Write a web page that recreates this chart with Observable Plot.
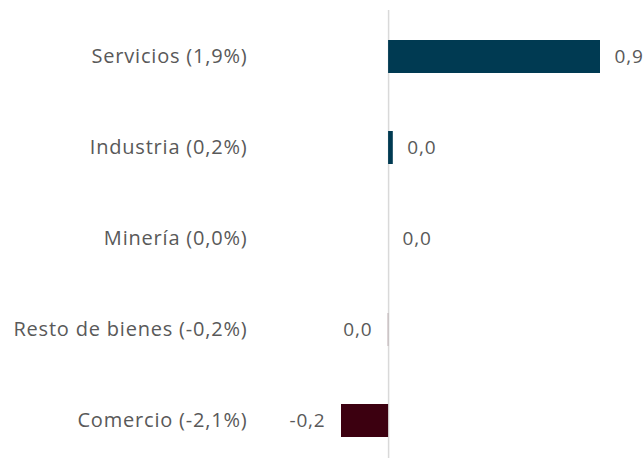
<!DOCTYPE html>
<html>
<head>
<meta charset="utf-8">
<script src="https://cdn.jsdelivr.net/npm/d3@7"></script>
<script src="https://cdn.jsdelivr.net/npm/@observablehq/plot@0.6"></script>
<style>
  html, body { margin: 0; padding: 0; background: #fff; }
  #chart { width: 644px; height: 460px; }
  #chart svg text { letter-spacing: 0.8px; }
</style>
</head>
<body>
<div id="chart"></div>
<script>
const categories = ["Servicios (1,9%)", "Industria (0,2%)", "Minería (0,0%)", "Resto de bienes (-0,2%)", "Comercio (-2,1%)"];
const values = [0.9, 0.02, 0.0, -0.001, -0.2];
const colorPos = "#003a52";
const colorNeg = "#3c0010";
const textColor = "#595959";

const data = categories.map((c, i) => ({ category: c, value: values[i] }));
const fmt = v => {
  const r = Math.round(v * 10) / 10;
  return (r === 0 ? "0,0" : r.toFixed(1).replace(".", ","));
};
const pos = data.filter(d => d.value >= 0);
const neg = data.filter(d => d.value < 0);

const chart = Plot.plot({
  width: 644,
  height: 460,
  marginLeft: 341,
  marginRight: 44,
  marginTop: 10,
  marginBottom: 2,
  style: { fontFamily: "'Open Sans', sans-serif", fontSize: "20px", color: textColor, background: "#fff" },
  x: { domain: [-0.2, 0.9], axis: null },
  y: { domain: categories, paddingInner: 0.64, paddingOuter: 0.275, align: 0.59, label: null },
  marks: [
    Plot.ruleX([0], { stroke: "#d9d9d9", strokeWidth: 1.5 }),
    Plot.barX(data, {
      x: "value",
      y: "category",
      fill: d => d.value >= 0 ? colorPos : colorNeg
    }),
    Plot.text(pos, {
      x: "value",
      y: "category",
      text: d => fmt(d.value),
      textAnchor: "start",
      dx: 14,
      fill: textColor,
      fontSize: 19
    }),
    Plot.text(neg, {
      x: "value",
      y: "category",
      text: d => fmt(d.value),
      textAnchor: "end",
      dx: -16,
      fill: textColor,
      fontSize: 19
    }),
    Plot.axisY({ tickSize: 0, tickPadding: 94, fontSize: 20, fill: textColor, label: null })
  ]
});
document.getElementById("chart").appendChild(chart);
</script>
</body>
</html>
